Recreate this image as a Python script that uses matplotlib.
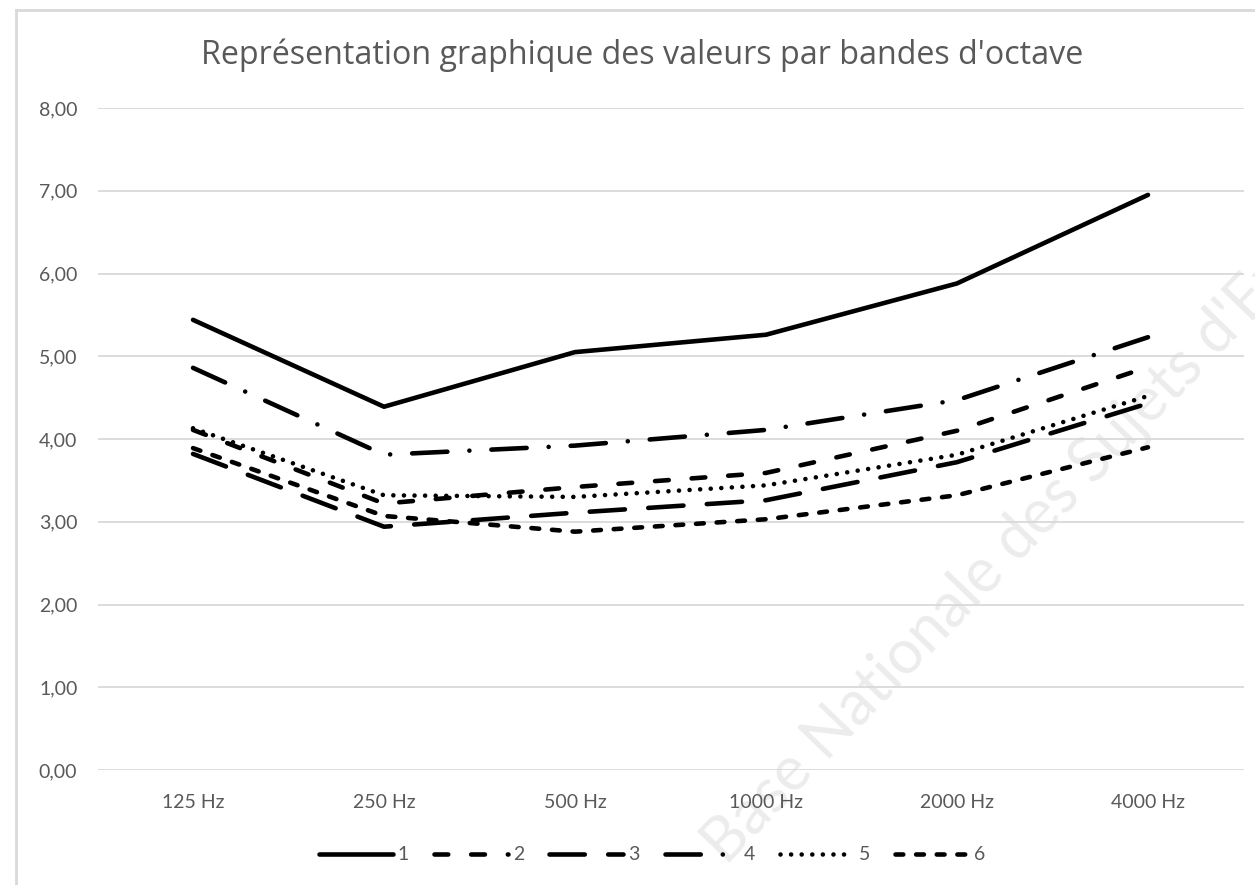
import matplotlib
matplotlib.use("Agg")
from matplotlib import pyplot as plt
from matplotlib.lines import Line2D

# values
bands = ['125 Hz', '250 Hz', '500 Hz', '1000 Hz', '2000 Hz', '4000 Hz']
s1 = [5.44, 4.39, 5.05, 5.26, 5.88, 6.95]
s2 = [4.11, 3.22, 3.42, 3.59, 4.10, 4.87]
s3 = [3.82, 2.94, 3.11, 3.26, 3.72, 4.43]
s4 = [4.86, 3.81, 3.92, 4.11, 4.47, 5.23]
s5 = [4.13, 3.32, 3.30, 3.44, 3.81, 4.52]
s6 = [3.89, 3.07, 2.88, 3.03, 3.32, 3.90]
names = ['1', '2', '3', '4', '5', '6']
yticks = [0, 1, 2, 3, 4, 5, 6, 7, 8]

txt = '#595959'
grid = '#d9d9d9'
plt.rcParams['font.family'] = ['Lato', 'DejaVu Sans']

fig = plt.figure(figsize=(12.55, 8.85), dpi=100)
ax = fig.add_axes([97.5/1255, 1-770/885, 1146/1255, 662/885])

# watermark behind everything (cut off at the right edge, as in the original)
fig.text(726/1255, 1-866/885, "Base Nationale des Sujets d'Examens", rotation=46,
         rotation_mode='anchor', ha='left', va='baseline', fontsize=44,
         color='#ececec', zorder=-1)

styles = [
    dict(linestyle='-'),
    dict(dashes=(3, 5)),
    dict(dashes=(7.7, 5.1)),
    dict(dashes=(7.7, 4.8, 0.01, 4.8)),
    dict(dashes=(0.01, 2.3)),
    dict(dashes=(1.7, 2.8)),
]
x = list(range(len(bands)))
for ys, name, st in zip([s1, s2, s3, s4, s5, s6], names, styles):
    ax.plot(x, ys, color='black', lw=3.3, solid_capstyle='round',
            dash_capstyle='round', label=name, zorder=3, **st)

ax.set_xlim(-0.5, 5.5)
ax.set_ylim(0, 8)
ax.set_yticks(yticks)
ax.set_yticklabels(['%d,00' % v for v in yticks])
ax.set_xticks(x)
ax.set_xticklabels(bands)
ax.tick_params(length=0, labelsize=14, labelcolor=txt)
ax.tick_params(axis='y', pad=14.5)
ax.tick_params(axis='x', pad=17)
ax.grid(axis='y', color=grid, lw=1.3)
ax.set_axisbelow(True)
for sp in ax.spines.values():
    sp.set_visible(False)
ax.patch.set_alpha(0)

fig.text(642/1255, 1-55/885, "Représentation graphique des valeurs par bandes d'octave",
         ha='center', va='center', fontsize=23.2, color=txt,
         family=['Open Sans', 'DejaVu Sans'])

fig.legend(loc='center', bbox_to_anchor=(652/1255, 1-855/885), ncol=6, frameon=False,
           fontsize=14, labelcolor=txt, handlelength=3.8, handletextpad=0.25,
           columnspacing=1.3)

# chart area border
fig.add_artist(Line2D([16/1255, 16/1255], [0, 1-10/885], color=grid, lw=2))
fig.add_artist(Line2D([16/1255, 1], [1-10/885, 1-10/885], color=grid, lw=2))

fig.savefig('out.png', dpi=100)
